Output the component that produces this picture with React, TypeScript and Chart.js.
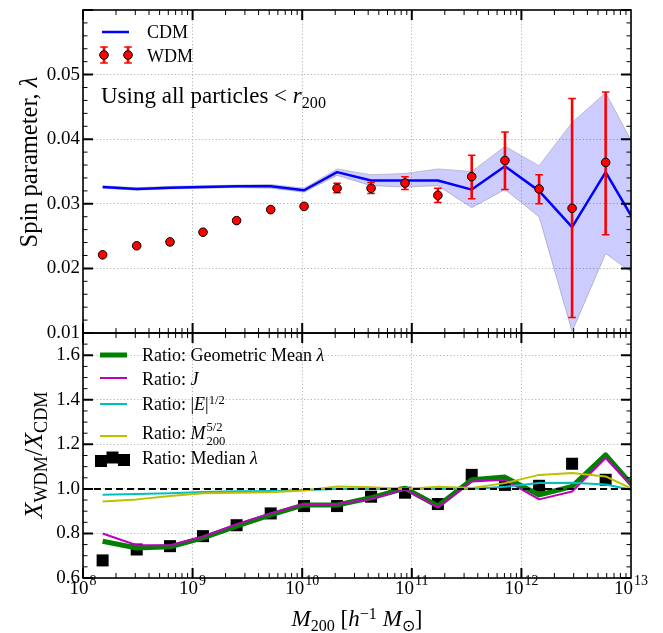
import React, { useEffect, useRef } from 'react';
import { Chart, registerables } from 'chart.js';

Chart.register(...registerables);

// ---------------- data ----------------
const MASS = [1.51e8, 3.09e8, 6.22e8, 1.245e9, 2.52e9, 5.16e9, 1.04e10, 2.08e10, 4.25e10, 8.67e10, 1.73e11, 3.52e11, 7.08e11, 1.45e12, 2.9e12, 5.87e12, 1.17e13];

const CDM_LAMBDA = [0.0326, 0.0323, 0.0325, 0.0326, 0.0327, 0.0327, 0.0321, 0.0349, 0.0336, 0.0336, 0.0336, 0.0322, 0.0358, 0.0320, 0.0264, 0.0349, 0.0262];
const CDM_UPPER = [0.0328, 0.0325, 0.0327, 0.0328, 0.0329, 0.0330, 0.0324, 0.0354, 0.0345, 0.0347, 0.0354, 0.0350, 0.0389, 0.0359, 0.0426, 0.0472, 0.0377];
const CDM_LOWER = [0.0324, 0.0321, 0.0323, 0.0324, 0.0325, 0.0324, 0.0318, 0.0344, 0.0328, 0.0326, 0.0328, 0.0294, 0.0322, 0.0280, 0.0102, 0.0223, 0.0186];

const WDM_LAMBDA = [0.0221, 0.0235, 0.0241, 0.0256, 0.0274, 0.0291, 0.0296, 0.0324, 0.0324, 0.0332, 0.0313, 0.0342, 0.0367, 0.0323, 0.0293, 0.0364];
const WDM_ERR_LOW = [0.0219, 0.0233, 0.0239, 0.0254, 0.0272, 0.0289, 0.0293, 0.0317, 0.0316, 0.0322, 0.0302, 0.0308, 0.0322, 0.0300, 0.0124, 0.0252];
const WDM_ERR_HIGH = [0.0223, 0.0237, 0.0243, 0.0258, 0.0276, 0.0293, 0.0299, 0.0332, 0.0333, 0.0342, 0.0324, 0.0375, 0.0411, 0.0345, 0.0463, 0.0473];

const RATIO_GEO_MEAN = [0.765, 0.735, 0.740, 0.780, 0.833, 0.883, 0.928, 0.928, 0.960, 1.003, 0.923, 1.041, 1.053, 0.973, 1.011, 1.153, 0.985];
const RATIO_J = [0.800, 0.747, 0.747, 0.785, 0.842, 0.890, 0.932, 0.932, 0.955, 0.999, 0.917, 1.033, 1.041, 0.953, 0.988, 1.139, 0.980];
const RATIO_E = [0.974, 0.977, 0.981, 0.986, 0.989, 0.991, 0.995, 1.000, 1.000, 1.002, 1.000, 1.000, 1.010, 1.026, 1.028, 1.020, 0.990];
const RATIO_M = [0.943, 0.953, 0.968, 0.980, 0.983, 0.985, 0.993, 1.011, 1.008, 1.000, 1.010, 1.004, 1.026, 1.063, 1.071, 1.056, 0.987];
const RATIO_MEDIAN = [0.679, 0.728, 0.743, 0.788, 0.837, 0.890, 0.923, 0.923, 0.965, 0.983, 0.932, 1.063, 1.018, 1.014, 1.113, 1.041];

const X_MIN = 1e8;
const X_MAX = 1e13;
const X_DECADES = [1e8, 1e9, 1e10, 1e11, 1e12, 1e13];
const X_EXPONENTS = ['8', '9', '10', '11', '12', '13'];
const TOP_Y_MIN = 0.01;
const TOP_Y_MAX = 0.06;
const TOP_Y_TICKS = [0.01, 0.02, 0.03, 0.04, 0.05];
const BOT_Y_MIN = 0.6;
const BOT_Y_MAX = 1.7;
const BOT_Y_TICKS = [0.6, 0.8, 1.0, 1.2, 1.4, 1.6];
const UNITY = 1.0;

// ---------------- styling ----------------
const FONT = '"Liberation Serif", "Times New Roman", serif';
const BLUE = '#0000ff';
const RED = '#ff0000';
const GREEN = '#008000';
const MAGENTA = '#bf00bf';
const CYAN = '#00bfbf';
const YELLOW = '#bfbf00';

const pts = (ys: number[]) => ys.map((y, i) => ({ x: MASS[i], y }));

const decorPlugin = {
  id: 'decor',
  beforeDatasetDraw(chart: any, args: any) {
    const ds = chart.data.datasets[args.index];
    if (ds.label !== 'WDM') return;
    const ctx = chart.ctx;
    const xs = chart.scales.x;
    const ys = chart.scales.yTop;
    ctx.save();
    ctx.strokeStyle = RED;
    for (let i = 0; i < WDM_LAMBDA.length; i++) {
      const px = xs.getPixelForValue(MASS[i]);
      const y1 = ys.getPixelForValue(WDM_ERR_LOW[i]);
      const y2 = ys.getPixelForValue(WDM_ERR_HIGH[i]);
      ctx.lineWidth = 2.6;
      ctx.beginPath();
      ctx.moveTo(px, y1);
      ctx.lineTo(px, y2);
      ctx.stroke();
      ctx.lineWidth = 1.5;
      ctx.beginPath();
      ctx.moveTo(px - 3.8, y1);
      ctx.lineTo(px + 3.8, y1);
      ctx.moveTo(px - 3.8, y2);
      ctx.lineTo(px + 3.8, y2);
      ctx.stroke();
    }
    ctx.restore();
  },
  afterDraw(chart: any) {
    const ctx = chart.ctx;
    const xs = chart.scales.x;
    const yt = chart.scales.yTop;
    const yb = chart.scales.yBot;
    const L = chart.chartArea.left;
    const R = chart.chartArea.right;
    ctx.save();
    ctx.strokeStyle = '#000';
    const panels = [
      { s: yt, major: TOP_Y_TICKS.concat([TOP_Y_MAX]), step: 0.002, min: TOP_Y_MIN, max: TOP_Y_MAX },
      { s: yb, major: BOT_Y_TICKS, step: 0.05, min: BOT_Y_MIN, max: BOT_Y_MAX },
    ];
    for (const p of panels) {
      const T = p.s.top;
      const B = p.s.bottom;
      for (let d = 8; d <= 12; d++) {
        for (let k = 1; k <= 9; k++) {
          const v = k * Math.pow(10, d);
          const px = xs.getPixelForValue(v);
          const major = k === 1;
          const len = major ? 10 : 5;
          ctx.lineWidth = major ? 2 : 1;
          ctx.beginPath();
          ctx.moveTo(px, T);
          ctx.lineTo(px, T + len);
          ctx.moveTo(px, B);
          ctx.lineTo(px, B - len);
          ctx.stroke();
        }
      }
      const n = Math.round((p.max - p.min) / p.step);
      for (let i = 0; i <= n; i++) {
        const v = p.min + i * p.step;
        const py = p.s.getPixelForValue(v);
        const major = p.major.some((m) => Math.abs(m - v) < p.step / 10);
        const len = major ? 10 : 4.5;
        ctx.lineWidth = major ? 2 : 1;
        ctx.beginPath();
        ctx.moveTo(L, py);
        ctx.lineTo(L + len, py);
        ctx.moveTo(R, py);
        ctx.lineTo(R - len, py);
        ctx.stroke();
      }
      ctx.lineWidth = 1.6;
      ctx.strokeRect(L, T, R - L, B - T);
    }

    // x tick labels 10^n
    ctx.fillStyle = '#000';
    ctx.textBaseline = 'alphabetic';
    ctx.textAlign = 'left';
    X_DECADES.forEach((v, i) => {
      const px = xs.getPixelForValue(v);
      ctx.font = `19px ${FONT}`;
      const w1 = ctx.measureText('10').width;
      ctx.font = `14px ${FONT}`;
      const w2 = ctx.measureText(X_EXPONENTS[i]).width;
      const x0 = px - (w1 + w2 + 1) / 2;
      ctx.font = `19px ${FONT}`;
      ctx.fillText('10', x0, 594);
      ctx.font = `14px ${FONT}`;
      ctx.fillText(X_EXPONENTS[i], x0 + w1 + 1, 585);
    });

    // top legend markers
    ctx.lineCap = 'butt';
    ctx.strokeStyle = BLUE;
    ctx.lineWidth = 2.5;
    ctx.beginPath();
    ctx.moveTo(102, 32);
    ctx.lineTo(129, 32);
    ctx.stroke();
    for (const lx of [104, 128]) {
      ctx.strokeStyle = RED;
      ctx.lineWidth = 2.6;
      ctx.beginPath();
      ctx.moveTo(lx, 47);
      ctx.lineTo(lx, 63);
      ctx.stroke();
      ctx.lineWidth = 1.5;
      ctx.beginPath();
      ctx.moveTo(lx - 3.8, 47);
      ctx.lineTo(lx + 3.8, 47);
      ctx.moveTo(lx - 3.8, 63);
      ctx.lineTo(lx + 3.8, 63);
      ctx.stroke();
      ctx.beginPath();
      ctx.arc(lx, 55, 4.3, 0, Math.PI * 2);
      ctx.fillStyle = RED;
      ctx.fill();
      ctx.strokeStyle = '#000';
      ctx.lineWidth = 1;
      ctx.stroke();
    }

    // bottom legend markers
    const lines: [string, number, number][] = [
      [GREEN, 5, 355],
      [MAGENTA, 2, 378],
      [CYAN, 2, 404],
      [YELLOW, 2, 436],
    ];
    for (const [c, w, y] of lines) {
      ctx.strokeStyle = c;
      ctx.lineWidth = w;
      ctx.beginPath();
      ctx.moveTo(100, y);
      ctx.lineTo(127, y);
      ctx.stroke();
    }
    ctx.fillStyle = '#000';
    for (const [sx, sy] of [[101, 461], [112.5, 457.5], [124, 460]]) {
      ctx.fillRect(sx - 6, sy - 6, 12, 12);
    }
    ctx.restore();
  },
};

export default function App() {
  const ref = useRef<HTMLCanvasElement>(null);

  useEffect(() => {
    if (!ref.current) return;
    const yTickFont = { family: FONT, size: 19 };
    const gridOpts = { color: '#b4b4b4', lineWidth: 1, drawTicks: false };
    const borderOpts = { display: false, dash: [1.2, 2.2] };
    const chart = new Chart(ref.current, {
      type: 'line',
      data: {
        datasets: [
          { label: 'WDM', data: WDM_LAMBDA.map((y, i) => ({ x: MASS[i], y })), yAxisID: 'yTop', showLine: false, pointRadius: 4.3, pointBackgroundColor: RED, pointBorderColor: '#000', pointBorderWidth: 1, order: 1 },
          { label: 'CDM', data: pts(CDM_LAMBDA), yAxisID: 'yTop', borderColor: BLUE, borderWidth: 2.5, pointRadius: 0, borderJoinStyle: 'round', order: 5 },
          { label: 'CDM upper', data: pts(CDM_UPPER), yAxisID: 'yTop', borderColor: 'rgba(140,140,140,0.45)', borderWidth: 1, pointRadius: 0, fill: '+1', backgroundColor: 'rgba(0,0,255,0.2)', order: 10 },
          { label: 'CDM lower', data: pts(CDM_LOWER), yAxisID: 'yTop', borderColor: 'rgba(140,140,140,0.45)', borderWidth: 1, pointRadius: 0, fill: false, order: 11 },
          { label: 'Unity', data: [{ x: X_MIN, y: UNITY }, { x: X_MAX, y: UNITY }], yAxisID: 'yBot', borderColor: '#000', borderWidth: 2, borderDash: [7, 4], pointRadius: 0, order: 2 },
          { label: 'Ratio: M200^5/2', data: pts(RATIO_M), yAxisID: 'yBot', borderColor: YELLOW, borderWidth: 2, pointRadius: 0, borderJoinStyle: 'round', order: 3 },
          { label: 'Ratio: |E|^1/2', data: pts(RATIO_E), yAxisID: 'yBot', borderColor: CYAN, borderWidth: 2, pointRadius: 0, borderJoinStyle: 'round', order: 4 },
          { label: 'Ratio: J', data: pts(RATIO_J), yAxisID: 'yBot', borderColor: MAGENTA, borderWidth: 2, pointRadius: 0, borderJoinStyle: 'round', order: 6 },
          { label: 'Ratio: Geometric Mean', data: pts(RATIO_GEO_MEAN), yAxisID: 'yBot', borderColor: GREEN, borderWidth: 5, pointRadius: 0, borderJoinStyle: 'round', order: 7 },
          { label: 'Ratio: Median', data: RATIO_MEDIAN.map((y, i) => ({ x: MASS[i], y })), yAxisID: 'yBot', showLine: false, pointStyle: 'rect', pointRadius: 8.5, pointBackgroundColor: '#000', pointBorderWidth: 0, order: 20 },
        ],
      },
      options: {
        animation: false,
        responsive: false,
        devicePixelRatio: 1,
        layout: { padding: { top: 10, right: 32, left: 0, bottom: 0 } },
        plugins: { legend: { display: false }, tooltip: { enabled: false } },
        scales: {
          x: {
            type: 'logarithmic',
            min: X_MIN,
            max: X_MAX,
            position: 'bottom',
            grid: gridOpts,
            border: borderOpts,
            ticks: { display: false },
            afterBuildTicks: (s: any) => { s.ticks = X_DECADES.map((v) => ({ value: v })); },
            afterFit: (s: any) => { s.height = 55; s.paddingLeft = 0; s.paddingRight = 0; },
          },
          yBot: {
            type: 'linear',
            position: 'left',
            stack: 'panels',
            stackWeight: 245,
            min: BOT_Y_MIN,
            max: BOT_Y_MAX,
            grid: gridOpts,
            border: borderOpts,
            ticks: { font: yTickFont, color: '#000', padding: 3, autoSkip: false, callback: (v: any) => Number(v).toFixed(1) },
            afterBuildTicks: (s: any) => { s.ticks = BOT_Y_TICKS.map((v) => ({ value: v })); },
            afterFit: (s: any) => { s.width = 83; s.paddingTop = 0; s.paddingBottom = 0; },
          },
          yTop: {
            type: 'linear',
            position: 'left',
            stack: 'panels',
            stackWeight: 323,
            min: TOP_Y_MIN,
            max: TOP_Y_MAX,
            grid: gridOpts,
            border: borderOpts,
            ticks: { font: yTickFont, color: '#000', padding: 3, autoSkip: false, callback: (v: any) => Number(v).toFixed(2) },
            afterBuildTicks: (s: any) => { s.ticks = TOP_Y_TICKS.map((v) => ({ value: v })); },
            afterFit: (s: any) => { s.width = 83; s.paddingTop = 0; s.paddingBottom = 0; },
          },
        },
      } as any,
      plugins: [decorPlugin],
    });
    return () => chart.destroy();
  }, []);

  const abs = (left: number, top: number, size: number, extra: any = {}): React.CSSProperties => ({
    position: 'absolute',
    left,
    top,
    fontSize: size,
    lineHeight: 1,
    whiteSpace: 'nowrap',
    transform: 'translateY(-50%)',
    ...extra,
  });
  const sub: React.CSSProperties = { fontSize: '0.7em', position: 'relative', top: '0.3em' };
  const sup: React.CSSProperties = { fontSize: '0.7em', position: 'relative', top: '-0.45em' };

  return (
    <div style={{ position: 'fixed', left: 0, top: 0, width: 663, height: 633, background: '#fff', fontFamily: FONT, color: '#000' }}>
      <canvas ref={ref} width={663} height={633} style={{ display: 'block', width: 663, height: 633 }} />
      <div style={abs(147, 32, 18)}>CDM</div>
      <div style={abs(147, 55.5, 18)}>WDM</div>
      <div style={abs(101, 95, 23)}>
        Using all particles &lt; <i>r</i><span style={sub}>200</span>
      </div>
      <div style={abs(142, 355, 18)}>Ratio: Geometric Mean <i>λ</i></div>
      <div style={abs(142, 378.5, 18)}>Ratio: <i>J</i></div>
      <div style={abs(142, 403.5, 18)}>
        Ratio: |<i>E</i>|<span style={sup}>1/2</span>
      </div>
      <div style={abs(142, 433, 18)}>
        Ratio: <i>M</i>
        <span style={{ display: 'inline-block', position: 'relative', fontSize: '0.7em' }}>
          <span style={{ visibility: 'hidden' }}>200</span>
          <span style={{ position: 'absolute', left: 1, top: '-0.6em' }}>5/2</span>
          <span style={{ position: 'absolute', left: 1, top: '0.45em' }}>200</span>
        </span>
      </div>
      <div style={abs(142, 457.5, 18)}>Ratio: Median <i>λ</i></div>
      <div style={{ position: 'absolute', left: 29, top: 162, fontSize: 24.5, lineHeight: 1, whiteSpace: 'nowrap', transform: 'translate(-50%,-50%) rotate(-90deg)' }}>
        Spin parameter, <i>λ</i>
      </div>
      <div style={{ position: 'absolute', left: 34, top: 455, fontSize: 26, lineHeight: 1, whiteSpace: 'nowrap', transform: 'translate(-50%,-50%) rotate(-90deg)' }}>
        <i>X</i><span style={sub}>WDM</span>/<i>X</i><span style={sub}>CDM</span>
      </div>
      <div style={{ position: 'absolute', left: 357, top: 618, fontSize: 23, lineHeight: 1, whiteSpace: 'nowrap', transform: 'translate(-50%,-50%)' }}>
        <i>M</i><span style={sub}>200</span> [<i>h</i><span style={sup}>−1</span> <i>M</i><span style={sub}>⊙</span>]
      </div>
    </div>
  );
}
